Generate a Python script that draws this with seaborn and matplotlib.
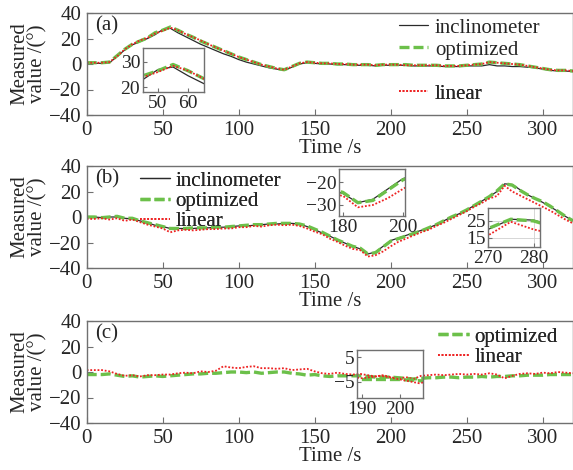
import matplotlib
matplotlib.use("Agg")
import matplotlib.pyplot as plt
import seaborn as sns
import pandas as pd

# ---------------- data ----------------
time_s = list(range(0, 321, 5))

a_inclinometer = [0.5, 0.5, 0.5, 1, 6, 11, 15, 17.5, 20, 23,
                  27, 28, 24.5, 21.5, 18.5, 15.5, 13, 10.5, 8, 6,
                  3.5, 1.5, 0, -1.5, -3, -4, -5, -2.5, 0, 1,
                  0.5, 0, 0, -0.5, -0.5, -1, -1, -1, -1.5, -1,
                  -1, -1, -1, -1.5, -1.5, -1.5, -1.5, -2, -2, -2,
                  -1.5, -1.5, -1.5, -0.5, -1.5, -1.5, -2, -2, -2.5, -3,
                  -4, -5, -5.5, -5.5, -6]
a_optimized = [1, 1, 1, 1.5, 6.5, 11.5, 15.5, 18, 20.5, 24.5,
               26.5, 29, 26.5, 23.5, 21, 18, 15.5, 13, 10.5, 8,
               5.5, 3.5, 1.5, -0.5, -2, -3.5, -4.5, -2, 0.5, 1.5,
               1, 0.5, 0.5, 0, 0, -0.5, -0.5, -0.5, -1, -0.5,
               -0.5, -0.5, -0.5, -1, -1, -1, -1, -1.5, -1.5, -1.5,
               -1, -0.5, 0, 1.5, 1, 0.5, 0, -0.5, -1.5, -2.5,
               -3.5, -4.5, -5, -5, -5.5]
a_linear = [1, 1, 1, 1.5, 6, 11.5, 15.5, 18.5, 20.5, 24,
            26, 28.5, 26.5, 23.5, 21, 18.5, 15.5, 13, 10.5, 8,
            5.5, 3.5, 1.5, -0.5, -2, -3.5, -4.5, -2, 0.5, 1.5,
            1, 0.5, 0.5, 0, 0, -0.5, -0.5, -0.5, -1, -0.5,
            -0.5, -0.5, -1, -1, -1, -1, -1, -1.5, -1.5, -1.5,
            -1, -0.5, 0, 1.5, 1, 0.5, 0, -0.5, -1.5, -2.5,
            -3.5, -4.5, -5, -5, -5.5]

b_inclinometer = [0, 0, -0.5, 0, 0, -1, -1.5, -3, -4.5, -6.5,
                  -7.5, -9, -9, -9, -9, -8.5, -8.5, -8, -8, -7.5,
                  -7, -7, -6.5, -6, -5.5, -5.5, -5, -5, -5.5, -7.5,
                  -10, -12.5, -15, -18, -20.5, -23, -25, -29, -27.5, -23,
                  -18.5, -16.5, -14.5, -12.5, -10.5, -8.5, -6, -3, 0, 2.5,
                  5.5, 9, 12.5, 16, 20, 26, 25.5, 21.5, 17.5, 14.5,
                  11.5, 8, 4.5, 0.5, -3]
b_optimized = [0, 0, -0.5, 0, 0.5, -1, -1, -3, -4.5, -6,
               -7.5, -9, -9, -9, -8.5, -8.5, -8.5, -8, -8, -7.5,
               -7, -6.5, -6, -6, -5.5, -5, -5, -5, -5.5, -7,
               -9.5, -12, -15, -18, -20.5, -23, -24.5, -29, -28, -23.5,
               -19, -17, -15, -13, -11, -8.5, -6, -3, 0, 2.5,
               5.5, 9, 12.5, 16, 20.5, 26, 25, 21, 17.5, 14.5,
               12, 8.5, 4.5, 0.5, -3]
b_linear = [-1.5, -1.5, -1, -2, -1, -3, -2, -4, -6, -7.5,
            -9, -12, -10.5, -10, -10.5, -10, -9.5, -9.5, -9, -9,
            -8, -8, -7, -7.5, -6.5, -6, -6.5, -6, -7, -9,
            -11.5, -13.5, -17, -19.5, -22.5, -25, -26, -31, -30, -27,
            -23, -19.5, -17, -14.5, -12, -10, -7, -4.5, -1.5, 1.5,
            4.5, 8, 11, 14.5, 16.5, 24.5, 20, 17, 14, 11,
            8, 5, 1.5, -2, -5]

c_optimized = [-2, -2, -2, -1.5, -2.5, -3.5, -3, -4, -3.5, -3,
               -3.5, -3, -2.5, -2, -1.5, -1.5, -1, -1, -0.5, 0,
               0, -0.5, 0, -1, -0.5, 0, 0, -1, -1.5, -2.5,
               -2, -3, -3.5, -3, -3, -3, -3, -3.5, -4, -4,
               -4, -4.5, -5, -5.5, -5, -4.5, -4.5, -4, -4, -4.5,
               -4, -4, -3.5, -4, -3.5, -3.5, -3, -3, -2.5, -2.5,
               -2.5, -2, -2, -2, -2]
c_linear = [1.5, 1.5, 1.5, 0.5, -1.5, -3, -2.5, -3.5, -2.5, -2.5,
            -2, -2, -1, -0.5, -1, 0.5, 0, 1, 4.5, 3.5,
            3, 4, 4.5, 3, 3, 2.5, 3, 1.5, 2, 2.5,
            0.5, -1, -1.5, -0.5, -1.5, -2, -1.5, -2.5, -3.5, -2.5,
            -4, -5.5, -4, -5.5, -3, -2.5, -2, -2.5, -2, -1.5,
            -2, -1.5, -2, -1, -2, -5, -3, -1.5, -1, -1.5,
            -0.5, -1, 0, -0.5, -1]

x_ticks = [0, 50, 100, 150, 200, 250, 300]
y_ticks = [-40, -20, 0, 20, 40]
panel_labels = ["(a)", "(b)", "(c)"]
x_label = "Time /s"
y_label = "Measured\nvalue /(°)"

# ---------------- styling ----------------
sns.set_theme(style="ticks")
plt.rcParams.update({
    "font.family": ["Liberation Serif", "DejaVu Serif"],
    "font.size": 15,
    "axes.unicode_minus": True,
})

STYLE = {
    "inclinometer": dict(color="#2a2a2a", linewidth=0.9, linestyle="-"),
    "optimized": dict(color="#6cc04a", linewidth=2.4, linestyle=(0, (3, 1.2))),
    "linear": dict(color="#ee2222", linewidth=1.3, linestyle=(0, (1, 1))),
}
SPINE = "#707070"

W, H = 573, 470
fig = plt.figure(figsize=(W / 100, H / 100), dpi=100)


def frac(px, py):
    return px / W, 1 - py / H


def rect(x0, y0, x1, y1):
    return [x0 / W, 1 - y1 / H, (x1 - x0) / W, (y1 - y0) / H]


def plot_series(ax, series):
    for name, vals in series:
        df = pd.DataFrame({"t": time_s, "v": vals})
        sns.lineplot(data=df, x="t", y="v", ax=ax, label=name, legend=False,
                     errorbar=None, sort=False, **STYLE[name])


def style_axes(ax, fs=15):
    for s in ax.spines.values():
        s.set_visible(True)
        s.set_color(SPINE)
        s.set_linewidth(1.0)
    ax.tick_params(direction="in", length=4, width=0.8, color=SPINE,
                   labelsize=fs, pad=4, top=False, right=False)


panels = [
    dict(rect=rect(86.7, 13, 573, 115),
         series=[("inclinometer", a_inclinometer), ("optimized", a_optimized), ("linear", a_linear)],
         insets=[dict(rect=rect(143, 48, 204, 92), xlim=(45, 65.3), ylim=(18, 35.6),
                      xt=[50, 60], yt=[20, 30], grid=False)],
         legends=[(["inclinometer", "optimized"], (399, 18)), (["linear"], (399, 84))],
         hl=1.4, htp=0.33, ls=0.12),
    dict(rect=rect(86.7, 166, 573, 268),
         series=[("inclinometer", b_inclinometer), ("optimized", b_optimized), ("linear", b_linear)],
         insets=[dict(rect=rect(339, 169, 405, 216), xlim=(178.7, 200.7), ylim=(-34.8, -14.3),
                      xt=[180, 200], yt=[-30, -20], grid=False),
                 dict(rect=rect(488, 208, 540, 247), xlim=(270, 281.4), ylim=(9.7, 32.6),
                      xt=[270, 280], yt=[15, 25], grid=True)],
         legends=[(["inclinometer", "optimized", "linear"], (140, 171))],
         hl=1.45, htp=0.25, ls=0.04),
    dict(rect=rect(86.7, 321, 573, 423),
         series=[("optimized", c_optimized), ("linear", c_linear)],
         insets=[dict(rect=rect(357, 350, 423, 398), xlim=(188.7, 206), ylim=(-11.4, 7.8),
                      xt=[190, 200], yt=[-5, 5], grid=False)],
         legends=[(["optimized", "linear"], (438, 327))],
         hl=1.5, htp=0.25, ls=0.04),
]

for i, p in enumerate(panels):
    ax = fig.add_axes(p["rect"])
    plot_series(ax, p["series"])
    ax.set_xlim(0, 320)
    ax.set_ylim(-40, 40)
    ax.set_xticks(x_ticks)
    ax.set_yticks(y_ticks)
    style_axes(ax)
    ax.set_xlabel(x_label, fontsize=15)
    ax.set_ylabel(y_label, fontsize=15, linespacing=0.95)
    ax.xaxis.set_label_coords(0.5, -0.235)
    ax.yaxis.set_label_coords(-0.08, 0.5)
    ax.text(0.017, 0.875, panel_labels[i], transform=ax.transAxes,
            fontsize=15, ha="left", va="center")

    handles = {ln.get_label(): ln for ln in ax.get_lines()}
    for names, (lx, ly) in p["legends"]:
        leg = ax.legend([handles[n] for n in names], names, loc="upper left",
                        bbox_to_anchor=frac(lx, ly), bbox_transform=fig.transFigure,
                        frameon=False, borderpad=0, borderaxespad=0,
                        handlelength=p["hl"], handletextpad=p["htp"],
                        labelspacing=p["ls"], fontsize=15)
        ax.add_artist(leg)

    for ins in p["insets"]:
        iax = fig.add_axes(ins["rect"])
        iax.set_facecolor("none")
        plot_series(iax, p["series"])
        iax.set_xlim(*ins["xlim"])
        iax.set_ylim(*ins["ylim"])
        iax.set_xticks(ins["xt"])
        iax.set_yticks(ins["yt"])
        style_axes(iax, fs=14)
        iax.tick_params(length=3, pad=2)
        iax.set_xlabel("")
        iax.set_ylabel("")
        if ins["grid"]:
            iax.grid(True, color="#d0d0d0", linewidth=0.6)

fig.savefig("out.png", dpi=100)
